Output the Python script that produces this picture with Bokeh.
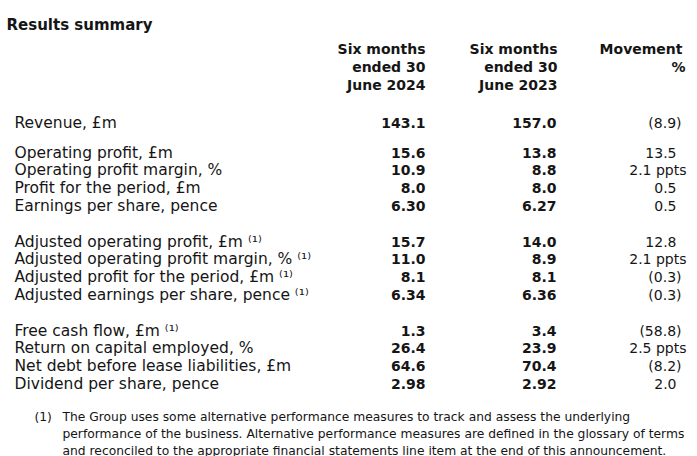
from bokeh.plotting import figure
from bokeh.models import ColumnDataSource, Range1d
from bokeh.embed import file_html
from bokeh.resources import INLINE
from bokeh.core.properties import value

# ---------------- data ----------------
title = "Results summary"
header_2024 = ["Six months", "ended 30", "June 2024"]
header_2023 = ["Six months", "ended 30", "June 2023"]
header_move = ["Movement", "%"]

group_revenue = ["Revenue, £m"]
group_statutory = [
    "Operating profit, £m",
    "Operating profit margin, %",
    "Profit for the period, £m",
    "Earnings per share, pence",
]
group_adjusted = [
    "Adjusted operating profit, £m \u207d\u00b9\u207e",
    "Adjusted operating profit margin, % \u207d\u00b9\u207e",
    "Adjusted profit for the period, £m \u207d\u00b9\u207e",
    "Adjusted earnings per share, pence \u207d\u00b9\u207e",
]
group_other = [
    "Free cash flow, £m \u207d\u00b9\u207e",
    "Return on capital employed, %",
    "Net debt before lease liabilities, £m",
    "Dividend per share, pence",
]

values_2024 = ["143.1", "15.6", "10.9", "8.0", "6.30", "15.7", "11.0", "8.1", "6.34",
               "1.3", "26.4", "64.6", "2.98"]
values_2023 = ["157.0", "13.8", "8.8", "8.0", "6.27", "14.0", "8.9", "8.1", "6.36",
               "3.4", "23.9", "70.4", "2.92"]
movement = ["(8.9)", "13.5", "2.1 ppts", "0.5", "0.5", "12.8", "2.1 ppts", "(0.3)", "(0.3)",
            "(58.8)", "2.5 ppts", "(8.2)", "2.0"]

footnote_mark = "(1)"
footnote_lines = [
    "The Group uses some alternative performance measures to track and assess the underlying",
    "performance of the business. Alternative performance measures are defined in the glossary of terms",
    "and reconciled to the appropriate financial statements line item at the end of this announcement.",
]

# ---------------- layout ----------------
W, H = 689, 456
FONT = value("DejaVu Sans")
INK = "#151515"
PITCH = 17.8
Y_FIRST = 152.0

groups = [group_revenue, group_statutory, group_adjusted, group_other]
labels, ys = [], []
for g, rows in enumerate(groups):
    for k, lab in enumerate(rows):
        labels.append(lab)
        slot = -1.63 if g == 0 else (g - 1) * 5 + k
        ys.append(Y_FIRST + PITCH * slot)

X_LABEL = 14
X_2024 = 425
X_2023 = 556
X_MOVE = 676


def move_x(s):
    if s.endswith("ppts"):
        return X_MOVE + 10
    if s.endswith(")"):
        return X_MOVE + 5
    return X_MOVE


p = figure(width=W, height=H, output_backend="svg", toolbar_location=None,
           x_range=Range1d(0, W), y_range=Range1d(H, 0),
           x_axis_type=None, y_axis_type=None, min_border=0,
           background_fill_color="white", border_fill_color="white")
p.outline_line_color = None
p.xgrid.visible = False
p.ygrid.visible = False

# title
p.text(x=[6], y=[24], text=[title], text_font=FONT, text_font_size="15px",
       text_font_style="bold", text_color=INK, text_baseline="alphabetic")

# column headers
hdr_y = [48, 66, 84]
p.text(x=[X_2024] * len(header_2024), y=hdr_y[:len(header_2024)], text=header_2024,
       text_font=FONT, text_font_size="14px", text_font_style="bold", text_color=INK,
       text_align="right", text_baseline="alphabetic")
p.text(x=[X_2023 + 1] * len(header_2023), y=hdr_y[:len(header_2023)], text=header_2023,
       text_font=FONT, text_font_size="14px", text_font_style="bold", text_color=INK,
       text_align="right", text_baseline="alphabetic")
p.text(x=[X_MOVE + 6, X_MOVE + 9], y=hdr_y[:len(header_move)], text=header_move,
       text_font=FONT, text_font_size="14px", text_font_style="bold", text_color=INK,
       text_align="right", text_baseline="alphabetic")

# rows
src = ColumnDataSource(dict(
    label=labels, y=ys, v24=values_2024, v23=values_2023, mv=movement,
    xl=[X_LABEL] * len(labels), x24=[X_2024] * len(labels), x23=[X_2023] * len(labels),
    xm=[move_x(m) for m in movement],
))
p.text(x="xl", y="y", text="label", source=src, text_font=FONT, text_font_size="15.5px",
       text_color=INK, text_baseline="alphabetic")
p.text(x="x24", y="y", text="v24", source=src, text_font=FONT, text_font_size="14px",
       text_font_style="bold", text_color=INK, text_align="right", text_baseline="alphabetic")
p.text(x="x23", y="y", text="v23", source=src, text_font=FONT, text_font_size="14px",
       text_font_style="bold", text_color=INK, text_align="right", text_baseline="alphabetic")
p.text(x="xm", y="y", text="mv", source=src, text_font=FONT, text_font_size="14px",
       text_color=INK, text_align="right", text_baseline="alphabetic")

# footnote
fn_y = [416, 433, 450]
p.text(x=[34], y=[fn_y[0]], text=[footnote_mark], text_font=FONT, text_font_size="12.3px",
       text_color=INK, text_baseline="alphabetic")
p.text(x=[62] * len(footnote_lines), y=fn_y, text=footnote_lines, text_font=FONT,
       text_font_size="12.3px", text_color=INK, text_baseline="alphabetic")

open("out.html", "w").write(file_html(p, INLINE))
